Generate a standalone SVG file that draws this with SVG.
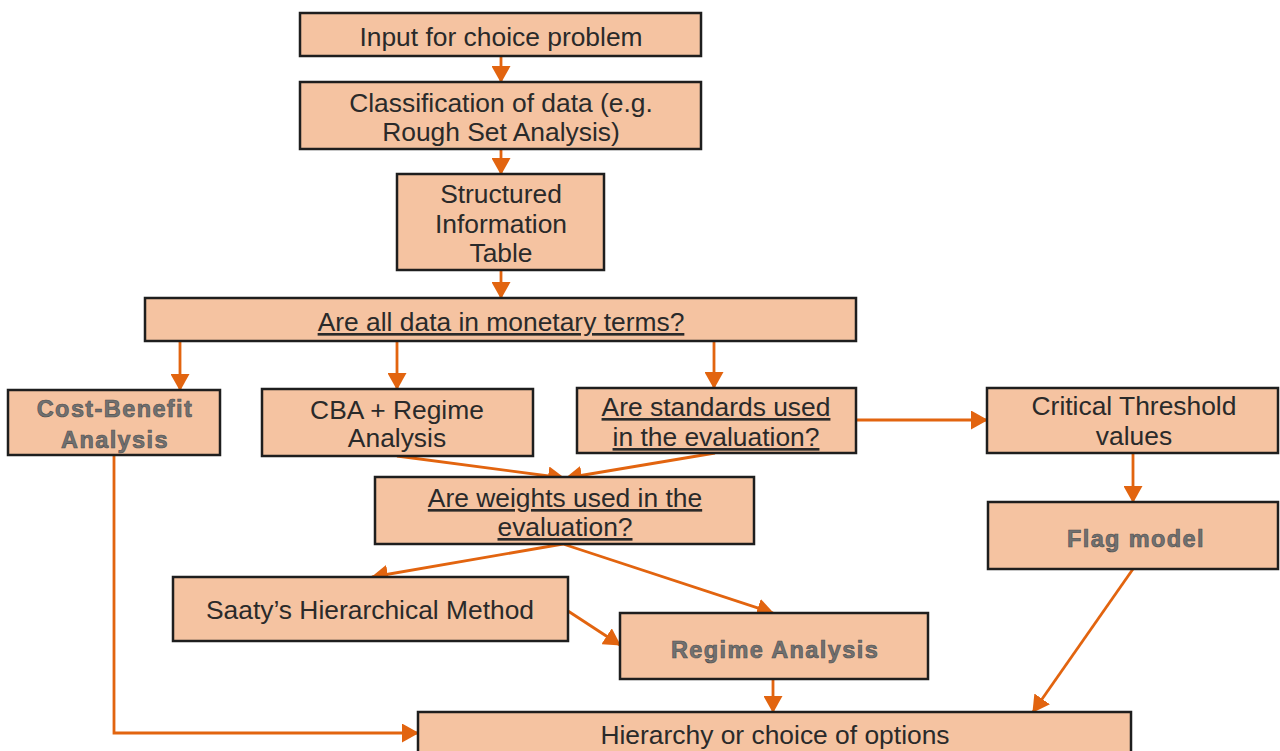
<svg xmlns="http://www.w3.org/2000/svg" width="1280" height="751" viewBox="0 0 1280 751">
  <defs>
    <marker id="arrow" markerUnits="userSpaceOnUse" markerWidth="17" markerHeight="19" viewBox="0 0 17 19" refX="16" refY="9.5" orient="auto">
      <path d="M0,0 L17,9.5 L0,19 Z" fill="#e2640f"/>
    </marker>
  </defs>
  <style>
    .box { fill: #f5c3a1; stroke: #1e1e1e; stroke-width: 2.5; }
    .t { font-family: "Liberation Sans", Arial, sans-serif; font-size: 26.4px; fill: #2a2a2a; text-anchor: middle; }
    .u { text-decoration: underline; }
    .b { font-family: "Liberation Sans", Arial, sans-serif; font-size: 23.5px; font-weight: bold; letter-spacing: 1.4px; fill: #717171; stroke: #4d4d4d; stroke-width: 0.6; text-anchor: middle; }
    .c { fill: none; stroke: #e2640f; stroke-width: 2.8; marker-end: url(#arrow); }
  </style>
  <rect width="1280" height="751" fill="#ffffff"/>

  <g id="connectors">
    <line class="c" x1="501" y1="56" x2="501" y2="82"/>
    <line class="c" x1="501" y1="149" x2="501" y2="174"/>
    <line class="c" x1="501" y1="270" x2="501" y2="298"/>
    <line class="c" x1="180" y1="341" x2="180" y2="390"/>
    <line class="c" x1="397" y1="341" x2="397" y2="389"/>
    <line class="c" x1="714" y1="341" x2="714" y2="388"/>
    <line class="c" x1="856" y1="420" x2="987" y2="420"/>
    <line class="c" x1="1133" y1="453" x2="1133" y2="502"/>
    <line class="c" x1="397" y1="456" x2="564" y2="478"/>
    <line class="c" x1="715" y1="453" x2="566" y2="478"/>
    <line class="c" x1="563" y1="544" x2="372" y2="577"/>
    <line class="c" x1="563" y1="544" x2="773" y2="613"/>
    <line class="c" x1="568" y1="611" x2="620" y2="645"/>
    <line class="c" x1="773" y1="679" x2="773" y2="712"/>
    <line class="c" x1="1133" y1="569" x2="1033" y2="712"/>
    <polyline class="c" points="114,455 114,733 418,733"/>
  </g>

  <g id="input">
    <rect class="box" x="300" y="13" width="401" height="43"/>
    <text class="t" x="501" y="46">Input for choice problem</text>
  </g>
  <g id="classification">
    <rect class="box" x="300" y="82" width="401" height="67"/>
    <text class="t" x="501" y="112">Classification of data (e.g.</text>
    <text class="t" x="501" y="141">Rough Set Analysis)</text>
  </g>
  <g id="info-table">
    <rect class="box" x="397" y="174" width="207" height="96"/>
    <text class="t" x="501" y="203">Structured</text>
    <text class="t" x="501" y="233">Information</text>
    <text class="t" x="501" y="262">Table</text>
  </g>
  <g id="monetary">
    <rect class="box" x="145" y="298" width="711" height="43"/>
    <text class="t u" x="501" y="331">Are all data in monetary terms?</text>
  </g>
  <g id="cost-benefit">
    <rect class="box" x="8" y="390" width="212" height="65"/>
    <text class="b" x="115" y="417">Cost-Benefit</text>
    <text class="b" x="115" y="448">Analysis</text>
  </g>
  <g id="cba-regime">
    <rect class="box" x="262" y="389" width="271" height="67"/>
    <text class="t" x="397" y="419">CBA + Regime</text>
    <text class="t" x="397" y="447">Analysis</text>
  </g>
  <g id="standards">
    <rect class="box" x="577" y="388" width="279" height="65"/>
    <text class="t u" x="716" y="416">Are standards used</text>
    <text class="t u" x="716" y="446">in the evaluation?</text>
  </g>
  <g id="threshold">
    <rect class="box" x="987" y="388" width="291" height="65"/>
    <text class="t" x="1134" y="415">Critical Threshold</text>
    <text class="t" x="1134" y="445">values</text>
  </g>
  <g id="weights">
    <rect class="box" x="375" y="477" width="379" height="67"/>
    <text class="t u" x="565" y="507">Are weights used in the</text>
    <text class="t u" x="565" y="536">evaluation?</text>
  </g>
  <g id="flag-model">
    <rect class="box" x="988" y="502" width="290" height="67"/>
    <text class="b" x="1136" y="547">Flag model</text>
  </g>
  <g id="saaty">
    <rect class="box" x="173" y="577" width="395" height="64"/>
    <text class="t" x="370" y="619">Saaty’s Hierarchical Method</text>
  </g>
  <g id="regime-analysis">
    <rect class="box" x="620" y="613" width="308" height="66"/>
    <text class="b" x="775" y="658">Regime Analysis</text>
  </g>
  <g id="hierarchy">
    <rect class="box" x="418" y="712" width="713" height="50"/>
    <text class="t" x="775" y="744">Hierarchy or choice of options</text>
  </g>
</svg>
